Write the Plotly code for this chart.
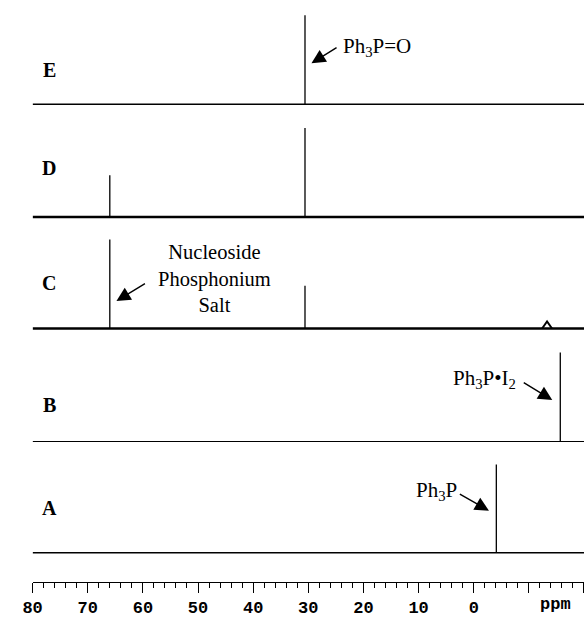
import plotly.graph_objects as go

W, H = 584, 628

# ---- data (ppm positions, relative intensities) ----
spectra = ["E", "D", "C", "B", "A"]
peaks_E_ppm = [30.6]
peaks_E_int = [1.0]
peaks_D_ppm = [66.0, 30.6]
peaks_D_int = [0.47, 1.0]
peaks_C_ppm = [66.0, 30.6]
peaks_C_int = [1.0, 0.48]
bump_C_ppm = [-12.4, -13.3, -14.2]
bump_C_int = [0.0, 0.08, 0.0]
peaks_B_ppm = [-15.7]
peaks_B_int = [1.0]
peaks_A_ppm = [-4.1]
peaks_A_int = [0.99]

axis_ppm_range = [80, -20]
major_ticks = [80, 70, 60, 50, 40, 30, 20, 10, 0, -10, -20]
major_labels = ["80", "70", "60", "50", "40", "30", "20", "10", "0", "", ""]

# ---- layout helpers ----
def py(px):
    return 1 - px / H

def pxx(px):
    return px / W

baseline_px = {"E": 104.3, "D": 217.0, "C": 328.5, "B": 441.5, "A": 552.7}
unit_px = 89.0
r0, r1 = -0.15, 1.05
base_width = {"E": 1.5, "D": 2.5, "C": 2.5, "B": 1.1, "A": 1.5}

data = {
    "E": (peaks_E_ppm, peaks_E_int),
    "D": (peaks_D_ppm, peaks_D_int),
    "C": (peaks_C_ppm, peaks_C_int),
    "B": (peaks_B_ppm, peaks_B_int),
    "A": (peaks_A_ppm, peaks_A_int),
}

fig = go.Figure()
layout_axes = {}
for i, s in enumerate(spectra):
    yname = "y" if i == 0 else f"y{i+1}"
    ykey = "yaxis" if i == 0 else f"yaxis{i+1}"
    b = baseline_px[s]
    dom = [py(b - r0 * unit_px), py(b - r1 * unit_px)]
    layout_axes[ykey] = dict(domain=dom, range=[r0, r1], visible=False,
                             anchor="x", fixedrange=True)
    fig.add_trace(go.Scatter(x=axis_ppm_range, y=[0, 0], xaxis="x", yaxis=yname,
                             mode="lines", line=dict(color="black", width=base_width[s]),
                             hoverinfo="skip"))
    px_list, int_list = data[s]
    xs, ys = [], []
    for p, h in zip(px_list, int_list):
        xs += [p, p, None]
        ys += [0, h, None]
    fig.add_trace(go.Scatter(x=xs, y=ys, xaxis="x", yaxis=yname, mode="lines",
                             line=dict(color="black", width=1.3), hoverinfo="skip"))
    if s == "C":
        fig.add_trace(go.Scatter(x=bump_C_ppm, y=bump_C_int, xaxis="x", yaxis=yname,
                                 mode="lines", line=dict(color="black", width=2),
                                 hoverinfo="skip"))

axis_line_px = 582.0
fig.update_layout(
    width=W, height=H,
    margin=dict(l=0, r=0, t=0, b=0),
    paper_bgcolor="white", plot_bgcolor="white",
    showlegend=False,
    xaxis=dict(
        domain=[pxx(23), 1], range=axis_ppm_range, autorange=False,
        anchor="free", position=py(axis_line_px),
        showline=True, linecolor="black", linewidth=1,
        showgrid=False, zeroline=False,
        tickmode="array", tickvals=major_ticks, ticktext=major_labels,
        ticks="outside", ticklen=10, tickwidth=1, tickcolor="black",
        minor=dict(tickmode="linear", tick0=0, dtick=2, ticks="outside",
                   ticklen=5, tickwidth=1, tickcolor="black", showgrid=False),
        tickfont=dict(family="Liberation Mono", size=17, color="black", weight="bold"),
        fixedrange=True,
    ),
    **layout_axes,
)

serif = "Liberation Serif"
annos = []
letter_pos = {"E": 70, "D": 168, "C": 283, "B": 405, "A": 508}
for s in spectra:
    annos.append(dict(x=pxx(40), y=py(letter_pos[s]), xref="paper", yref="paper",
                      xanchor="center", yanchor="middle",
                      text=f"<b>{s}</b>", showarrow=False,
                      font=dict(family=serif, size=20, color="black")))

annos.append(dict(x=pxx(337), y=py(47), xref="paper", yref="paper",
                  xanchor="left", yanchor="middle",
                  text="Ph<sub>3</sub>P=O", showarrow=False,
                  font=dict(family=serif, size=21, color="black")))
annos.append(dict(x=pxx(208), y=py(278), xref="paper", yref="paper",
                  xanchor="center", yanchor="middle",
                  text="Nucleoside<br>Phosphonium<br>Salt", showarrow=False, align="center",
                  font=dict(family=serif, size=20.5, color="black")))
annos.append(dict(x=pxx(517), y=py(379), xref="paper", yref="paper",
                  xanchor="right", yanchor="middle",
                  text="Ph<sub>3</sub>P•I<sub>2</sub>", showarrow=False,
                  font=dict(family=serif, size=21, color="black")))
annos.append(dict(x=pxx(457), y=py(491), xref="paper", yref="paper",
                  xanchor="right", yanchor="middle",
                  text="Ph<sub>3</sub>P", showarrow=False,
                  font=dict(family=serif, size=21, color="black")))
annos.append(dict(x=pxx(555), y=py(604), xref="paper", yref="paper",
                  xanchor="center", yanchor="middle",
                  text="<b>ppm</b>", showarrow=False,
                  font=dict(family="Liberation Mono", size=17, color="black")))

arrows = [((306.7, 63.3), (333.3, 46.7)),
          ((108.3, 301.0), (138.3, 282.7)),
          ((551.7, 400.0), (521.7, 381.7)),
          ((487.3, 510.7), (456.7, 493.3))]
for (tx, ty), (sx, sy) in arrows:
    annos.append(dict(x=pxx(tx), y=py(ty), xref="paper", yref="paper", text="",
                      showarrow=True, ax=sx - tx, ay=sy - ty, axref="pixel", ayref="pixel",
                      arrowhead=2, arrowsize=2.0, arrowwidth=1.4, arrowcolor="black",
                      standoff=0))
fig.update_layout(annotations=annos)

fig.write_html(
    "out.html",
    config={"displayModeBar": False},
    post_script="document.body.style.margin='0';document.body.style.padding='0';"
                "document.body.style.overflow='hidden';",
)
